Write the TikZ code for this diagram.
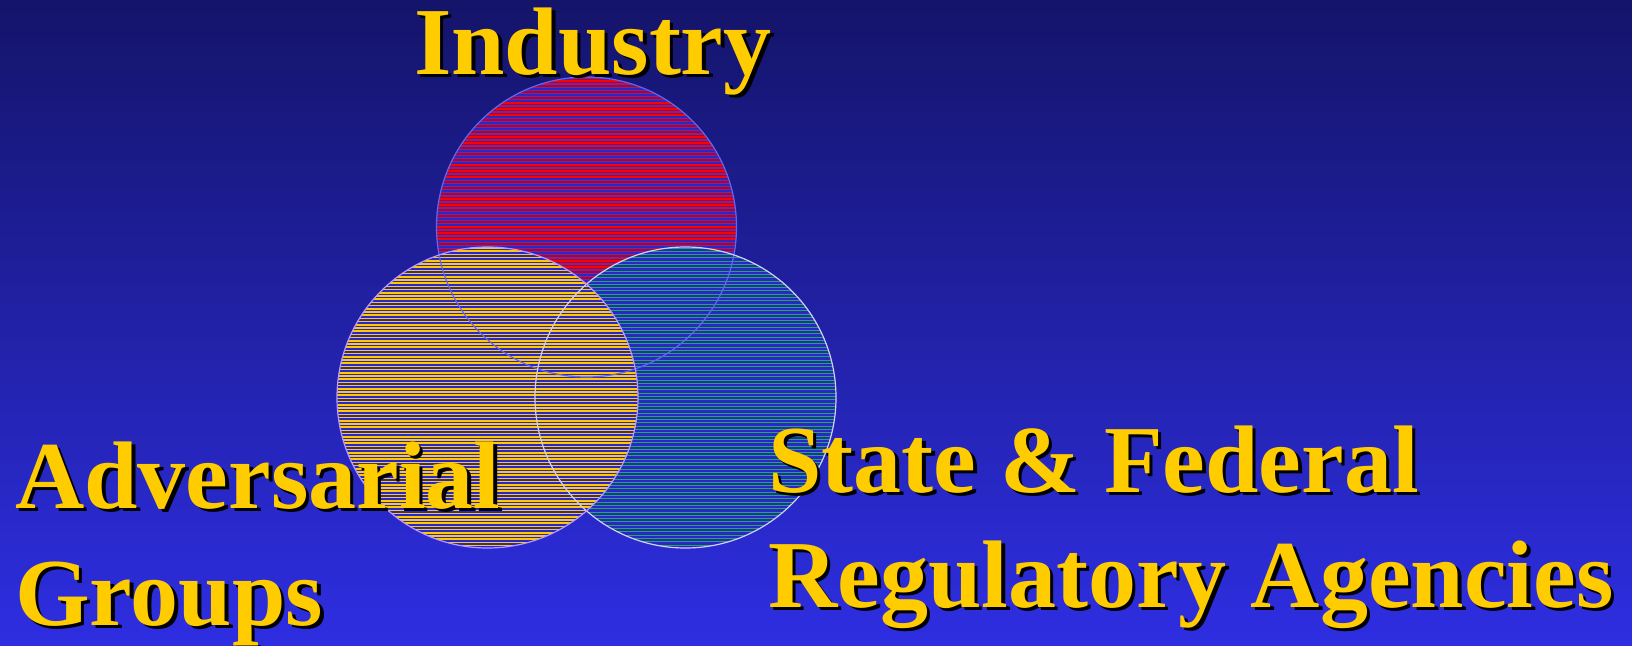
\documentclass[tikz,border=0pt]{standalone}
\usepackage{fontspec}
\setmainfont{Liberation Serif}
\definecolor{bgtop}{HTML}{14146A}
\definecolor{bgbot}{HTML}{2E2EE2}
\definecolor{gapblue}{HTML}{2828C8}
\definecolor{stripered}{HTML}{FF0000}
\definecolor{stripeyel}{HTML}{FFC800}
\definecolor{stripegrn}{HTML}{22AA55}
\definecolor{outred}{HTML}{6464F0}
\definecolor{outyel}{HTML}{B898FF}
\definecolor{outgrn}{HTML}{D0D0F4}
\definecolor{txtyel}{HTML}{FFCC00}
\newcommand{\shadowtxt}[1]{\makebox[0pt][l]{\hspace{3.5pt}\raisebox{-3.5pt}{\color{black}#1}}#1}
\tikzset{
  lbl/.style={anchor=base west, inner sep=0pt, text=txtyel,
    font=\fontsize{96}{96}\selectfont\bfseries},
}
\begin{document}
\begin{tikzpicture}[x=1pt,y=-1pt]
\useasboundingbox (0,0) rectangle (1632,645);
\shade[top color=bgtop, bottom color=bgbot] (0,0) rectangle (1632,645);

\coordinate (cind) at (586.5,227);
\coordinate (cadv) at (487.5,397.5);
\coordinate (creg) at (685.5,397.5);

% Industry circle
\begin{scope}
  \clip (cind) circle[radius=150];
  \fill[gapblue] (cind) circle[radius=150];
  \foreach \y in {78,81.1,...,378}
    \draw[stripered, line width=1.5pt] (430,\y) -- (740,\y);
\end{scope}
% Regulatory circle
\begin{scope}
  \clip (creg) circle[radius=150.5];
  \fill[gapblue] (creg) circle[radius=150.5];
  \foreach \y in {248,251.3,...,549}
    \draw[stripegrn, line width=1.0pt] (530,\y) -- (840,\y);
\end{scope}
% Adversarial circle
\begin{scope}
  \clip (cadv) circle[radius=150.5];
  \fill[gapblue] (cadv) circle[radius=150.5];
  \foreach \y in {248,251.2,...,549}
    \draw[stripeyel, line width=1.5pt] (330,\y) -- (640,\y);
\end{scope}
% outlines
\draw[outred, line width=1.2pt] (cind) circle[radius=150];
\draw[outgrn, line width=1.2pt] (creg) circle[radius=150.5];
\draw[outyel, line width=1.2pt] (cadv) circle[radius=150.5];

% labels with shadows
\node[lbl] (ind) at (414,74) {\shadowtxt{Industry}};
\node[lbl] (adv1) at (15,508) {\shadowtxt{Adversarial}};
\node[lbl] (adv2) at (15,625) {\shadowtxt{Groups}};
\node[lbl] (reg1) at (768,492) {\shadowtxt{State \& Federal}};
\node[lbl] (reg2) at (768,607) {\shadowtxt{Regulatory Agencies}};
\end{tikzpicture}
\end{document}
